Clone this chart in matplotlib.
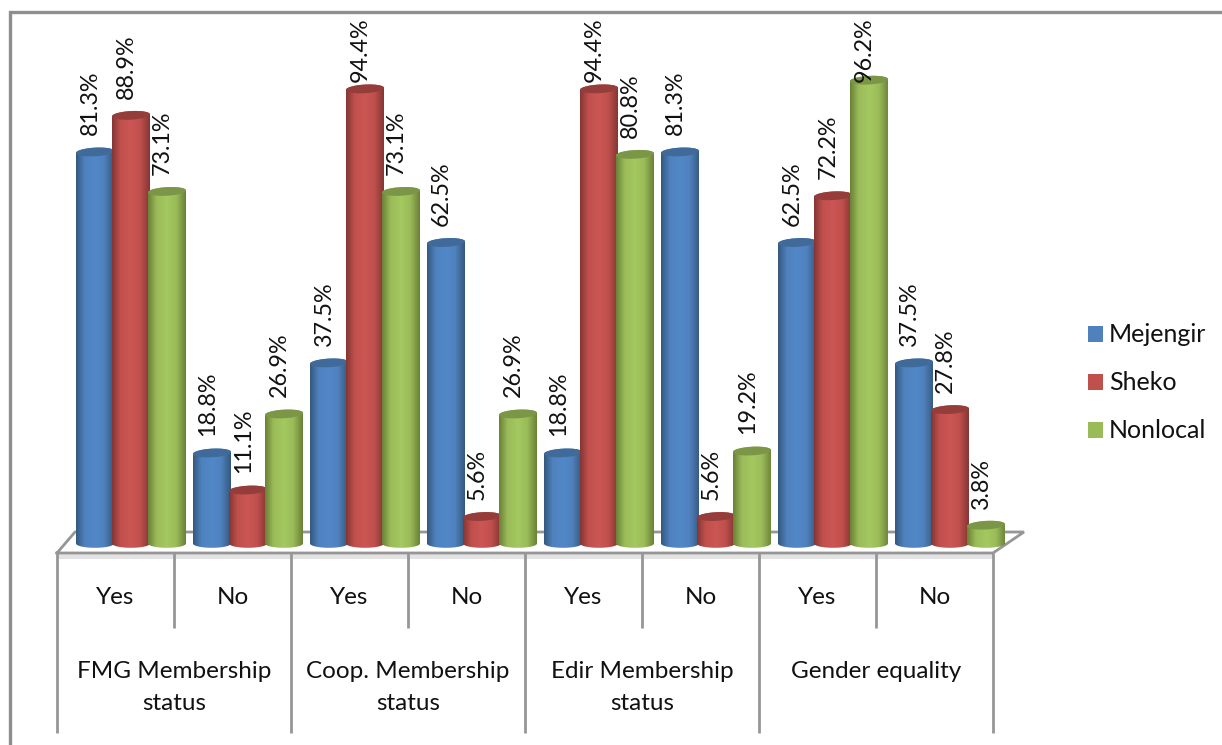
import numpy as np
import matplotlib
matplotlib.use("Agg")
import matplotlib.pyplot as plt
from matplotlib.patches import Patch, Polygon
from matplotlib.colors import LinearSegmentedColormap

plt.rcParams['font.family'] = ['Lato', 'DejaVu Sans']

answers = ["Yes", "No", "Yes", "No", "Yes", "No", "Yes", "No"]
groups = ["FMG Membership\nstatus", "Coop. Membership\nstatus", "Edir Membership\nstatus", "Gender equality"]
series = ["Mejengir", "Sheko", "Nonlocal"]
mejengir = [81.3, 18.8, 37.5, 62.5, 18.8, 81.3, 62.5, 37.5]
sheko = [88.9, 11.1, 94.4, 5.6, 94.4, 5.6, 72.2, 27.8]
nonlocal_ = [73.1, 26.9, 73.1, 26.9, 80.8, 19.2, 96.2, 3.8]
values = [mejengir, sheko, nonlocal_]
legend_colors = ["#4F81BD", "#C0504D", "#9BBB59"]
edge_colors = ["#34597F", "#853634", "#6A8236"]
mid_colors = ["#5288C8", "#CC5654", "#A4C960"]
top_colors = ["#3F6A99", "#943D3B", "#7C9647"]

W, H = 1222, 745
fig = plt.figure(figsize=(W / 100, H / 100), dpi=100, facecolor="white")

# pixel-space layer for the furniture
px = fig.add_axes([0, 0, 1, 1], zorder=1)
px.set_xlim(0, W); px.set_ylim(H, 0); px.axis("off")

# data layer: one x unit = one category, y in percent
CAT_PX = 117.0
Y_PX = 4.816
ZERO_PX = 543.5
CENTER0_PX = 131.0
ax = fig.add_axes([0, 0, 1, 1], zorder=2)
ax.patch.set_alpha(0)
xlim = (-CENTER0_PX / CAT_PX, (W - CENTER0_PX) / CAT_PX)
ylim = ((ZERO_PX - H) / Y_PX, ZERO_PX / Y_PX)
ax.axis("off")

grey = "#969696"
lw = 2.0
# chart frame
px.plot([10, 10, W], [H, 12, 12], color="#8E8E8E", lw=2.4, solid_capstyle="butt", solid_joinstyle="miter")
# floor
px.plot([57, 75, 1024, 993, 57], [553, 532, 532, 553, 553], color=grey, lw=lw, solid_joinstyle="miter", zorder=2)
px.fill([57, 993, 993, 57], [554, 554, 559, 559], color="#E3E3E3", lw=0, zorder=1)
# category separators
for i in range(9):
    x = 57 + i * CAT_PX
    px.plot([x, x], [553, 733 if i % 2 == 0 else 628], color=grey, lw=lw, solid_capstyle="butt", zorder=2)
for i, a in enumerate(answers):
    px.text(57 + (i + .5) * CAT_PX, 598, a, ha="center", va="center", fontsize=17.5, color="#111111")
for i, g in enumerate(groups):
    px.text(57 + (2 * i + 1) * CAT_PX, 687.5 if "\n" in g else 672, g, ha="center", va="center",
            fontsize=17.5, color="#111111", linespacing=1.62)

BAR_PX = 38.0
STEP_PX = 36.0
half_w = BAR_PX / 2 / CAT_PX
ell_h = 4.3 / Y_PX
tilt = 1.0 / Y_PX
t = np.linspace(0, 2 * np.pi, 73)
LABEL_GAP = 3.46    # label anchor above the bar top, percent units
LABEL_MAX = 95.8    # tall labels are held inside the plot area, as in the original
for s, vals in enumerate(values):
    cmap = LinearSegmentedColormap.from_list(
        series[s],
        [(0, edge_colors[s]), (.22, legend_colors[s]), (.5, mid_colors[s]),
         (.75, legend_colors[s]), (1, edge_colors[s])])
    for c, v in enumerate(vals):
        cx = c + (s - 1) * STEP_PX / CAT_PX
        # body: straight sides with rounded bottom and top
        a = np.linspace(np.pi, 2 * np.pi, 37)
        bx = cx + half_w * np.cos(a)
        by = ell_h * np.sin(a)
        a2 = np.linspace(0, np.pi, 37)
        tx = cx + half_w * np.cos(a2)
        ty = v + ell_h * np.sin(a2) + tilt * np.cos(a2)
        body = Polygon(np.column_stack([np.r_[bx, tx], np.r_[by, ty]]), closed=True,
                       transform=ax.transData, facecolor="none", edgecolor="none")
        ax.add_patch(body)
        body.set_zorder(2 + s + c * 3)
        im = ax.imshow(np.linspace(0, 1, 64).reshape(1, -1), cmap=cmap, aspect="auto",
                       extent=(cx - half_w, cx + half_w, -ell_h, v + ell_h + tilt),
                       zorder=2 + s + c * 3, interpolation="bilinear")
        im.set_clip_path(body)
        ax.fill(cx + half_w * np.cos(t), v + ell_h * np.sin(t) + tilt * np.cos(t),
                color=top_colors[s], lw=0, zorder=2.5 + s + c * 3)
        ax.annotate(f"{v:.1f}%", (cx, min(v + LABEL_GAP, LABEL_MAX)), xytext=(-3.5, 0),
                    textcoords="offset points",
                    rotation=90, ha="center", va="bottom", fontsize=16.8, color="#111111",
                    zorder=100, rotation_mode="default")
ax.set_xlim(*xlim)
ax.set_ylim(*ylim)

handles = [Patch(facecolor=col, edgecolor="none", label=n) for col, n in zip(legend_colors, series)]
leg = ax.legend(handles=handles, loc="center left", bbox_to_anchor=(1088 / W, 1 - 383 / H),
                frameon=False, fontsize=18, labelspacing=1.0, handlelength=.6, handleheight=.6,
                handletextpad=.24, borderpad=0, borderaxespad=0, labelcolor="#111111")

fig.savefig("out.png", dpi=100, facecolor="white")
